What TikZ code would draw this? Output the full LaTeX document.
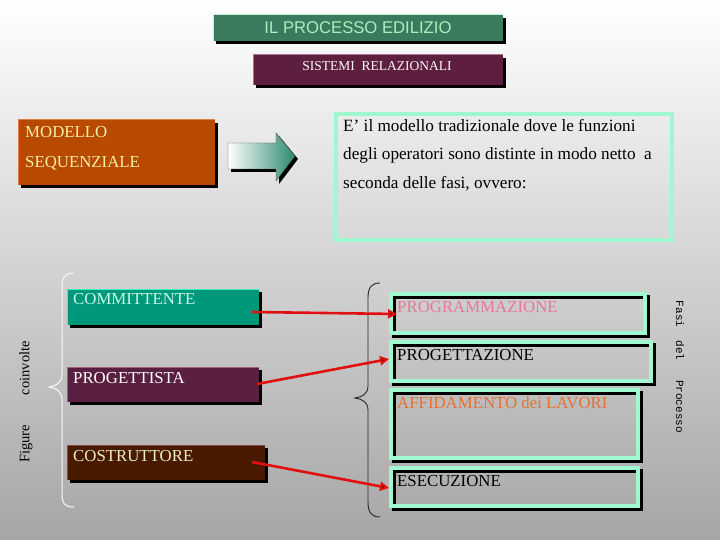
\documentclass[tikz,border=0pt]{standalone}
\usepackage{fontspec}
\setmainfont{Liberation Serif}
\newfontfamily\titlefont{Liberation Sans}
\newfontfamily\monofont{Liberation Mono}
\usetikzlibrary{arrows.meta}
\definecolor{titlefill}{HTML}{3C7A5E}
\definecolor{titletext}{HTML}{A8F0C0}
\definecolor{subfill}{HTML}{5E1E40}
\definecolor{subedge}{HTML}{B07090}
\definecolor{modfill}{HTML}{B84A00}
\definecolor{modedge}{HTML}{E08040}
\definecolor{modtext}{HTML}{F0F0A8}
\definecolor{comfill}{HTML}{00987A}
\definecolor{comedge}{HTML}{40F0C0}
\definecolor{comtext}{HTML}{C8F8E8}
\definecolor{profill}{HTML}{5A1E40}
\definecolor{proedge}{HTML}{A06080}
\definecolor{costfill}{HTML}{4A1A00}
\definecolor{costedge}{HTML}{805040}
\definecolor{costtext}{HTML}{E8F0C0}
\definecolor{mint}{HTML}{A0F8D0}
\definecolor{pinktext}{HTML}{E87898}
\definecolor{orangetext}{HTML}{E87030}
\definecolor{arrowteal}{HTML}{2A8A70}
\definecolor{redline}{HTML}{E01010}
\tikzset{
  labeltext/.style={anchor=north west, inner sep=0pt, font=\fontsize{16.8}{19}\selectfont},
  phasebox/.style={draw=mint, line width=3.5pt},
  phaseshadow/.style={draw=black, line width=3.5pt},
  conn/.style={draw=redline, line width=2.6pt, -{Triangle[length=9pt,width=9pt,fill=black!80!red]}},
}
\begin{document}
\begin{tikzpicture}[x=1pt,y=-1pt]
\useasboundingbox (0,0) rectangle (720,540);
% background
\shade[top color=white, bottom color=black!35] (0,0) rectangle (720,540);

% title
\fill[black] (216,18) rectangle (506,44);
\fill[titlefill] (213,15) rectangle (503,41);
\draw[titletext!80!white, line width=1pt] (213,41) -- (213,15) -- (503,15);
\node[font=\titlefont\fontsize{17}{20}\selectfont, text=titletext, inner sep=0pt] (title) at (358,28) {\scalebox{0.98}[1]{IL PROCESSO EDILIZIO}};

% subtitle
\fill[black] (256,58) rectangle (506,88);
\fill[subfill] (253,55) rectangle (503,85);
\draw[subedge, line width=1pt] (253,85) -- (253,55) -- (503,55);
\node[font=\fontsize{13.5}{15}\selectfont, text=white!92!pink, inner sep=0pt] (sub) at (377,66) {SISTEMI\ \ RELAZIONALI};

% modello sequenziale
\fill[black] (21,123) rectangle (218,188);
\fill[modfill] (18,120) rectangle (215,185);
\draw[modedge, line width=1pt] (18,185) -- (18,120) -- (215,120);
\node[labeltext, text=modtext] (mod1) at (25,126) {MODELLO};
\node[labeltext, text=modtext] (mod2) at (25,156) {SEQUENZIALE};

% block arrow
\fill[black] (231,146) -- (279,146) -- (279,136) -- (298,159) -- (279,184) -- (279,172) -- (231,172) -- cycle;
\shade[left color=white, right color=arrowteal, draw=black!70, line width=0.4pt] (228,143) -- (276,143) -- (276,133) -- (295,156) -- (276,181) -- (276,169) -- (228,169) -- cycle;

% description box
\draw[mint, line width=4pt] (336,114) rectangle (672,240);
\node[anchor=north west, inner sep=0pt, font=\fontsize{17.2}{28.5}\selectfont, align=left] (desc) at (343,119)
  {E’ il modello tradizionale dove le funzioni\\degli operatori sono distinte in modo netto\ \ a\\seconda delle fasi, ovvero:};

% left brace
\draw[white!95!gray, line width=1pt] (74,273) .. controls (64,273) and (62,278) .. (62,288) -- (62,374) .. controls (62,383) and (56,386) .. (49,387) .. controls (56,388) and (62,391) .. (62,400) -- (62,494) .. controls (62,503) and (64,507) .. (74,507);
\node[rotate=90, font=\fontsize{14.5}{16}\selectfont, inner sep=0pt] (fig) at (26,402) {Figure\hspace{30pt}coinvolte};

% left boxes
\fill[black] (70,292) rectangle (262,328);
\fill[comfill] (67,289) rectangle (259,325);
\draw[comedge, line width=1pt] (67,325) -- (67,289) -- (259,289);
\node[labeltext, text=comtext] (com) at (73,293) {COMMITTENTE};

\fill[black] (70,370) rectangle (262,405);
\fill[profill] (67,367) rectangle (259,402);
\draw[proedge, line width=1pt] (67,402) -- (67,367) -- (259,367);
\node[labeltext, text=white] (pro) at (73,372) {PROGETTISTA};

\fill[black] (70,448) rectangle (268,483);
\fill[costfill] (67,445) rectangle (265,480);
\draw[costedge, line width=1pt] (67,480) -- (67,445) -- (265,445);
\node[labeltext, text=costtext] (cost) at (73,450) {COSTRUTTORE};

% right brace
\draw[black!85, line width=0.9pt] (380,283) .. controls (371,283) and (368,288) .. (368,298) -- (368,386) .. controls (368,394) and (362,397) .. (355,398) .. controls (362,399) and (368,402) .. (368,410) -- (368,502) .. controls (368,512) and (371,517) .. (380,517);

% phase boxes
\draw[phaseshadow] (394,297) rectangle (648,336);
\draw[phasebox] (391,294) rectangle (645,333);
\node[labeltext, text=pinktext] (ph1) at (397,301) {PROGRAMMAZIONE};

\draw[phaseshadow] (394,345) rectangle (654,384);
\draw[phasebox] (391,342) rectangle (651,381);
\node[labeltext, text=black] (ph2) at (397,349) {PROGETTAZIONE};

\draw[phaseshadow] (394,393) rectangle (641,461);
\draw[phasebox] (391,390) rectangle (638,458);
\node[labeltext, text=orangetext] (ph3) at (397,397) {AFFIDAMENTO dei LAVORI};

\draw[phaseshadow] (394,471) rectangle (641,509);
\draw[phasebox] (391,468) rectangle (638,506);
\node[labeltext, text=black] (ph4) at (397,475) {ESECUZIONE};

\node[rotate=-90, font=\monofont\fontsize{11}{12}\selectfont, text=black, inner sep=0pt] (fasi) at (680,367) {Fasi\ \ del\ \ \ Processo};

% connectors
\coordinate (c1) at (252,312);
\coordinate (c2) at (257,384);
\coordinate (c3) at (252,462);
\draw[conn] (c1) -- (ph1.west |- 0,314) ;
\draw[conn] (c2) -- (389,359);
\draw[conn] (c3) -- (389,488);
\end{tikzpicture}
\end{document}
